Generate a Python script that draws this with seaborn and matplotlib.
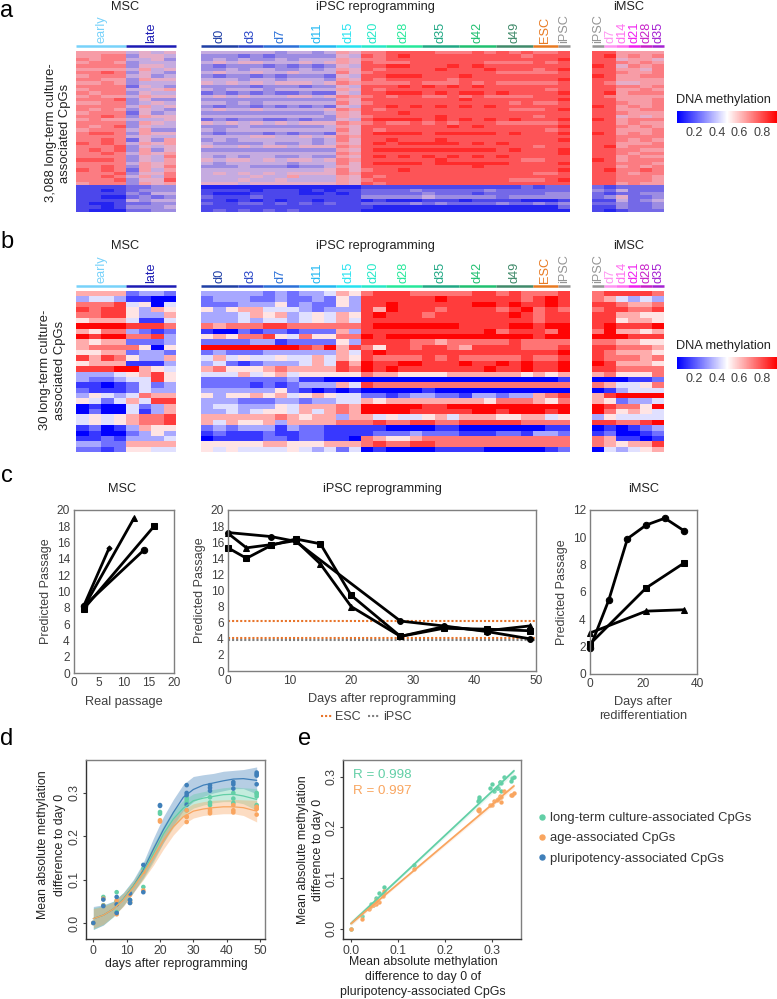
import numpy as np
import pandas as pd
import matplotlib
matplotlib.use("Agg")
import matplotlib.pyplot as plt
import seaborn as sns
from matplotlib.colors import LinearSegmentedColormap
from matplotlib.lines import Line2D

# =============================================================================
# 1. DATA (heatmap cells are read by eye, one digit per cell, 0=blue .. 9=red)
# =============================================================================
a_msc = ["66664545", "66773554", "76774453", "67763444", "77773554", "66664645", "77873543", "67774534",
         "77663655", "66763444", "77772543", "67774456", "76773544", "67664655", "77783533", "66773454",
         "77774645", "76763543", "67772534", "77873655", "67664445", "77773654", "76783544", "67774633",
         "78873655", "77774544", "77872536", "87874656", "77783545", "78783635", "77874656", "77773547",
         "88873546", "77774656", "77873657", "87872646", "77783557", "77874647", "77783558", "67773656",
         "11112233", "11012333", "11113244", "11002323", "11114344", "10012233", "11013334", "10002233"]
a_ipsc = ["4444443443465 77888877787878778", "3332323333354 87898888888887888", "3434334344465 77888888888888889",
          "4545544454565 87778888887777878", "3233323232354 88998889898888888", "3343443343465 87888898889888789",
          "4544544544475 78888888888777778", "3233232333254 88999888988888888", "4443443444365 87888887888888889",
          "5454545554576 77778777878777778", "3333233323354 88898989898888888", "4344434444465 87888888888888878",
          "2323232232254 88999898998988889", "4545444554576 78788778787777888", "3333333333365 88888888988888889",
          "4434344444475 78888888888878778", "3233232323254 88989898989888888", "4544544444576 87888888888877789",
          "3333333333465 88898888888888888", "4444444444365 78888898888888788", "2323322323354 89999898989898889",
          "5454545455576 78778787888777778", "3334333333465 88888889898888889", "4344444444475 87888888888888878",
          "3233323233265 89999899999898889", "4444554454576 88888888888888888", "3434444443475 88988898888888889",
          "4333343343465 89899999898988888", "5445455455576 88888888888888788", "3333333333365 89999999999898889",
          "4444444444476 88888888888888889", "4343443343365 89898989898988888", "5455454554576 88888898888887788",
          "4344444344475 89999899999988889", "3334333233465 88888888898888888", "4444444444575 78898888888888889",
          "4545454555576 88888888888888778", "4444544644465 87888888888888888", "4445445444465 78888888888877789",
          "5554555555565 87888888888888888",
          "0000000000000 11111111111112122", "1111011101011 22223222223222222", "1000111100101 22222322212222233",
          "2111211111111 33333433333233333", "1101010110111 01000111011110001", "2112212121211 22223232222322323",
          "1111111111111 10000000000000002", "1212121211111 00000000000000000"]
a_imsc = ["886666", "896767", "885665", "887676", "985767", "886657", "887667", "986677", "886666", "875566",
          "887767", "886676", "896777", "876666", "886667", "887667", "986767", "886677", "887666", "885656",
          "986777", "886766", "887676", "886667", "986767", "887777", "887676", "886667", "896777", "887766",
          "887677", "886766", "986777", "887776", "886767", "897787", "887677", "887776", "887776", "886766",
          "212222", "324222", "212233", "235223", "114234", "223223", "113223", "101222"]

b_msc = ["66662332", "34431100", "77784504", "87885365", "77885336", "56664114", "99998887", "65773212",
         "98997783", "65662223", "67777505", "55662332", "86875336", "56661113", "88899654", "33345685",
         "32234485", "11012423", "21112433", "35434766", "54246488", "01004236", "02004136", "45456778",
         "45456778", "12013655", "01002353", "11213334", "33226666", "22125544"]
b_ipsc = ["3333323233465 78887777788787778", "2333223223253 88888898888887898", "2223335232253 88988888899898898",
          "5356644432333 86988878888789787", "3334656345465 89888788888898788", "3334344345464 88888888888888788",
          "7677788777777 89999999888899899", "1002122122263 88888888889788879", "5657785475577 98999999999999899",
          "2222331222253 88887767777787777", "9999999987968 75887887688887778", "2322233333364 89888888888888889",
          "4645445446465 87777878777778778", "3421233346486 98899888988989889", "6755567666687 98988888889889889",
          "4446456455555 76655556666665656", "2222222311000 00000000000000001", "2222121233364 87777777777777777",
          "3333335210101 00000100000000000", "5355656456544 22123322133233678", "3332223323344 65666666665777657",
          "3443335466676 99999889999999999", "3343455464676 99998888899899989", "6666667656636 64544564666556645",
          "6465563666677 78778877888887777", "2323331322111 11000011000000011", "1211121122111 12223222111221332",
          "0111122122110 76556777777777777", "5555566555666 78778877777777777", "5454444543424 01000011110000012"]
b_imsc = ["788887", "764343", "887667", "788778", "886655", "885665", "898889", "796656", "999888", "776655",
          "887776", "876665", "877767", "986665", "887777", "675557", "000112", "764457", "013444", "689999",
          "652334", "987759", "975654", "354444", "887789", "010123", "120012", "761101", "765668", "043456"]

msc_groups = [("early", 4, "#78d2fa"), ("late", 4, "#1c1cb4")]
ipsc_groups = [("d0", 3, "#1f3fa5"), ("d3", 2, "#2a48c8"), ("d7", 3, "#2a70d8"), ("d11", 3, "#22b8f2"),
               ("d15", 2, "#26e2f0"), ("d20", 2, "#26e8c8"), ("d28", 3, "#26e89a"), ("d35", 3, "#20a884"),
               ("d42", 3, "#20c070"), ("d49", 3, "#408a6a"), ("ESC", 2, "#e87a22"), ("iPSC", 1, "#949494")]
imsc_groups = [("iPSC", 1, "#949494"), ("d7", 1, "#ff96f2"), ("d14", 1, "#ff70f0"), ("d21", 1, "#f020f0"),
               ("d28", 1, "#c822c8"), ("d35", 1, "#a422d2")]

# panel c
msc_x = [[2, 7], [2, 12], [2, 16], [2, 14]]
msc_y = [[8.3, 15.3], [8.1, 19.0], [7.9, 18.0], [8.2, 15.1]]
msc_markers = ["D", "^", "s", "o"]
rep_days = [0, 3, 7, 11, 15, 20, 28, 35, 42, 49]
rep_square = [15.3, 14.0, 15.6, 16.4, 15.8, 9.4, 4.3, 5.3, 5.2, 5.0]
rep_triangle = [17.1, 15.3, 15.7, 16.2, 13.3, 8.0, 4.3, 5.5, 5.0, 5.6]
rep_circle_days = [0, 7, 11, 28, 35, 42, 49]
rep_circle = [17.2, 16.7, 16.1, 6.2, 5.6, 4.9, 4.0]
esc_levels = [6.2, 4.15]
ipsc_levels = [3.8]
imsc_circle_days = [0, 7, 14, 21, 28, 35]
imsc_circle = [1.9, 5.4, 9.9, 10.9, 11.4, 10.5]
imsc_sparse_days = [0, 21, 35]
imsc_square = [2.2, 6.3, 8.1]
imsc_triangle = [3.0, 4.6, 4.7]

# panel d/e samples
sample_days = [0, 3, 3, 7, 7, 7, 11, 11, 11, 15, 15, 20, 20, 28, 28, 28, 28, 35, 35, 35, 42, 42, 42, 49, 49, 49, 49]
pluri_vals = [0, .054, .039, .060, .043, .023, .068, .053, .046, .134, .071, .272, .270, .318, .300, .295, .273,
              .318, .312, .305, .325, .320, .310, .347, .343, .340, .320]
ltc_vals = [0, .060, .041, .071, .050, .025, .068, .053, .047, .125, .083, .256, .252, .290, .285, .278, .260,
            .290, .278, .272, .300, .287, .277, .300, .297, .292, .272]
age_vals = [0, .056, .040, .052, .045, .020, .065, .050, .047, .118, .075, .237, .234, .260, .245, .245, .233,
            .262, .257, .253, .272, .260, .255, .268, .264, .263, .250]

fit_days = [0, 3, 6, 9, 12, 15, 18, 21, 24, 27, 30, 33, 36, 39, 42, 45, 49]
pluri_fit = [.010, .018, .032, .055, .085, .122, .170, .215, .255, .290, .308, .318, .323, .328, .332, .333, .329]
pluri_hi = [.038, .042, .050, .070, .100, .140, .195, .245, .285, .320, .338, .342, .345, .350, .352, .354, .360]
pluri_lo = [-.015, -.005, .015, .040, .070, .105, .145, .185, .225, .260, .280, .292, .300, .305, .310, .310, .298]
ltc_fit = [.010, .018, .032, .055, .085, .118, .160, .205, .240, .265, .282, .288, .292, .296, .297, .293, .285]
ltc_hi = [.035, .040, .050, .070, .098, .135, .180, .225, .260, .283, .298, .303, .308, .312, .314, .312, .310]
ltc_lo = [-.015, -.004, .014, .040, .072, .102, .140, .185, .220, .248, .265, .272, .277, .280, .280, .275, .260]
age_fit = [.010, .018, .032, .053, .082, .115, .152, .190, .222, .245, .258, .263, .266, .268, .268, .266, .258]
age_hi = [.033, .038, .048, .068, .095, .130, .172, .210, .240, .262, .275, .280, .283, .284, .285, .284, .283]
age_lo = [-.012, -.003, .016, .038, .070, .100, .133, .170, .203, .228, .242, .248, .250, .252, .252, .248, .233]

GREEN, ORANGE, BLUE = "#62cfa6", "#f9a55f", "#3f7fb9"
DARK = "#404040"

# =============================================================================
# 2. SETUP
# =============================================================================
sns.set_theme(style="white")
plt.rcParams["font.family"] = ["Liberation Sans", "DejaVu Sans"]
W, H = 777, 999
fig = plt.figure(figsize=(W / 100, H / 100), dpi=100)
cmap = LinearSegmentedColormap.from_list("meth", ["#0000ff", "#ffffff", "#ff0000"])
# panel a is so finely striped in the original that the mid tones blend to purple
cmap_a = LinearSegmentedColormap.from_list("meth_a", [(0, "#2424f0"), (0.33, "#9c8ce2"), (0.47, "#d0b4e0"),
                                                      (0.62, "#f6a8b4"), (0.78, "#fb7a80"), (1, "#ff2828")])


def axes_px(x0, y0, x1, y1):
    return fig.add_axes([x0 / W, 1 - y1 / H, (x1 - x0) / W, (y1 - y0) / H])


def text_px(x, y, s, **kw):
    kw.setdefault("ha", "center")
    kw.setdefault("va", "center")
    kw.setdefault("color", "#222222")
    kw.setdefault("fontsize", 9.2)
    fig.text(x / W, 1 - y / H, s, **kw)


def cells(rows):
    return pd.DataFrame([[0.05 + 0.097 * int(c) for c in r.replace(" ", "")] for r in rows])


def draw_heat(rows, box, groups, heat_cmap):
    ax = axes_px(*box)
    sns.heatmap(cells(rows), ax=ax, cmap=heat_cmap, vmin=0.05, vmax=0.93, cbar=False,
                xticklabels=False, yticklabels=False)
    trans = ax.get_xaxis_transform()
    height = box[3] - box[1]
    start = 0
    for name, n, col in groups:
        ax.plot([start, start + n], [1 + 5 / height] * 2, transform=trans, color=col, lw=1.8,
                solid_capstyle="butt", clip_on=False)
        ax.text(start + n / 2, 1 + 8 / height, name, transform=trans, color=col, rotation=90,
                ha="center", va="bottom", fontsize=9.2)
        start += n
    return ax


def draw_cbar(box, title_y, tick_y):
    cax = axes_px(*box)
    sns.heatmap(pd.DataFrame([np.linspace(0.05, 0.93, 200)]), ax=cax, cmap=cmap, vmin=0.05, vmax=0.93,
                cbar=False, xticklabels=False, yticklabels=False)
    for v in [0.2, 0.4, 0.6, 0.8]:
        pos = box[0] + (box[2] - box[0]) * (v - 0.05) / 0.88
        text_px(pos, tick_y, f"{v:.1f}", fontsize=9, color=DARK)
    text_px((box[0] + box[2]) / 2 - 4, title_y, "DNA methylation", fontsize=9.2)


def frame(ax, color="#7f7f7f", lw=1.0):
    for s in ax.spines.values():
        s.set_visible(True)
        s.set_color(color)
        s.set_linewidth(lw)


# =============================================================================
# 3. PANELS A AND B
# =============================================================================
for rows_set, top, bottom, title_y, lab_x, lab_y, lab, cbar_y, heat_cmap in [
    ((a_msc, a_ipsc, a_imsc), 51, 212, 7, (51, 65), 133,
     ("3,088 long-term culture-", "associated CpGs"), 111, cmap_a),
    ((b_msc, b_ipsc, b_imsc), 291, 452, 246, (45, 60), 370,
     ("30 long-term culture-", "associated CpGs"), 357, cmap),
]:
    draw_heat(rows_set[0], (76, top, 176, bottom), msc_groups, heat_cmap)
    draw_heat(rows_set[1], (201, top, 570, bottom), ipsc_groups, heat_cmap)
    draw_heat(rows_set[2], (592, top, 664, bottom), imsc_groups, heat_cmap)
    text_px(125, title_y, "MSC")
    text_px(375, title_y, "iPSC reprogramming")
    text_px(629, title_y, "iMSC")
    text_px(lab_x[0], lab_y, lab[0], rotation=90, fontsize=9.4)
    text_px(lab_x[1], lab_y, lab[1], rotation=90, fontsize=9.4)
    draw_cbar((677, cbar_y, 777, cbar_y + 12), cbar_y - 11, cbar_y + 22)

# =============================================================================
# 4. PANEL C
# =============================================================================
line_kw = dict(color="black", linewidth=2.0, errorbar=None, markeredgecolor="black")
DOTS = (0, (1, 0.95))


def style_c(ax, xlim, ylim, xticks, yticks, ylabel="Predicted Passage"):
    ax.set_xlim(*xlim)
    ax.set_ylim(*ylim)
    ax.set_xticks(xticks)
    ax.set_yticks(yticks)
    ax.tick_params(length=0, labelsize=8.6, labelcolor=DARK, pad=3)
    ax.set_ylabel(ylabel, fontsize=9.0, color=DARK, labelpad=3)
    ax.set_xlabel("")
    frame(ax)


ax = axes_px(74, 510, 174, 673)
for xs, ys, m in zip(msc_x, msc_y, msc_markers):
    sns.lineplot(x=xs, y=ys, marker=m, markersize=4.6 if m != "D" else 2.6, ax=ax, **line_kw)
style_c(ax, (0, 20), (0, 20), range(0, 21, 5), range(0, 21, 2))
text_px(122, 489, "MSC")
text_px(124, 702, "Real passage", color=DARK)

ax = axes_px(228, 510, 536, 671)
for v in esc_levels:
    ax.axhline(v, color="#e8742a", ls=DOTS, lw=1.5)
for v in ipsc_levels:
    ax.axhline(v, color="#808080", ls=DOTS, lw=1.5)
sns.lineplot(x=rep_days, y=rep_square, marker="s", markersize=4.6, ax=ax, **line_kw)
sns.lineplot(x=rep_days, y=rep_triangle, marker="^", markersize=4, ax=ax, **line_kw)
sns.lineplot(x=rep_circle_days, y=rep_circle, marker="o", markersize=4.2, ax=ax, **line_kw)
style_c(ax, (0, 50), (0, 20), range(0, 51, 10), range(0, 21, 2))
for t in ax.get_lines():
    t.set_clip_on(False)
text_px(382, 489, "iPSC reprogramming")
text_px(382, 699, "Days after reprogramming", color=DARK)
fig.legend([Line2D([], [], color="#e8742a", ls=DOTS, lw=1.5),
            Line2D([], [], color="#808080", ls=DOTS, lw=1.5)],
           ["ESC", "iPSC"], ncol=2, frameon=False, loc="center", bbox_to_anchor=(366 / W, 1 - 717 / H),
           fontsize=9, handlelength=0.9, handletextpad=0.25, columnspacing=0.6, labelcolor=DARK)

ax = axes_px(590, 510, 697, 674)
sns.lineplot(x=imsc_circle_days, y=imsc_circle, marker="o", markersize=4.6, ax=ax, **line_kw)
sns.lineplot(x=imsc_sparse_days, y=imsc_square, marker="s", markersize=4.8, ax=ax, **line_kw)
sns.lineplot(x=imsc_sparse_days, y=imsc_triangle, marker="^", markersize=4.2, ax=ax, **line_kw)
style_c(ax, (0, 40), (0, 12), range(0, 41, 20), range(0, 13, 2))
for t in ax.get_lines():
    t.set_clip_on(False)
text_px(644, 489, "iMSC")
text_px(643, 702, "Days after", color=DARK)
text_px(643, 716, "redifferentiation", color=DARK)

# =============================================================================
# 5. PANEL D
# =============================================================================
ax = axes_px(86, 760, 265, 939)
samples = pd.DataFrame({"day": sample_days, "pluri": pluri_vals, "ltc": ltc_vals, "age": age_vals})
long_df = samples.melt(id_vars="day", value_vars=["ltc", "age", "pluri"], var_name="set", value_name="value")
for fit, lo, hi, col in [(pluri_fit, pluri_lo, pluri_hi, BLUE), (ltc_fit, ltc_lo, ltc_hi, GREEN),
                         (age_fit, age_lo, age_hi, ORANGE)]:
    ax.fill_between(fit_days, lo, hi, color=col, alpha=0.38, linewidth=0)
    sns.lineplot(x=fit_days, y=fit, color=col, linewidth=0.9, errorbar=None, ax=ax)
sns.scatterplot(data=long_df, x="day", y="value", hue="set", palette={"ltc": GREEN, "age": ORANGE, "pluri": BLUE},
                s=11, linewidth=0, legend=False, ax=ax)
ax.set_xlim(-2.2, 51.5)
ax.set_ylim(-0.037, 0.376)
ax.set_xticks(range(0, 51, 10))
ax.set_yticks([0, 0.1, 0.2, 0.3])
ax.set_yticklabels(["0.0", "0.1", "0.2", "0.3"], rotation=90, va="center")
ax.tick_params(length=2, width=0.8, color=DARK, labelsize=8.8, labelcolor=DARK, pad=2, left=True, bottom=True)
ax.set_xlabel("")
ax.set_ylabel("")
frame(ax)
ax.spines["left"].set_color("#333333")
ax.spines["bottom"].set_color("#333333")
text_px(43, 845, "Mean absolute methylation", rotation=90, fontsize=8.9)
text_px(60, 845, "difference to day 0", rotation=90, fontsize=8.9)
text_px(176, 964, "days after reprogramming", fontsize=8.9)

# =============================================================================
# 6. PANEL E
# =============================================================================
ax = axes_px(343, 760, 521, 939)
sns.regplot(x=pluri_vals, y=ltc_vals, ax=ax, color=GREEN, ci=95, n_boot=200, seed=1,
            scatter_kws={"s": 10, "alpha": 1, "linewidths": 0}, line_kws={"lw": 1.3})
sns.regplot(x=pluri_vals, y=age_vals, ax=ax, color=ORANGE, ci=95, n_boot=200, seed=1,
            scatter_kws={"s": 10, "alpha": 1, "linewidths": 0}, line_kws={"lw": 1.3})
ax.set_xlim(-0.017, 0.362)
ax.set_ylim(-0.02, 0.333)
ax.set_xticks([0, 0.1, 0.2, 0.3])
ax.set_xticklabels(["0.0", "0.1", "0.2", "0.3"])
ax.set_yticks([0, 0.1, 0.2, 0.3])
ax.set_yticklabels(["0.0", "0.1", "0.2", "0.3"], rotation=90, va="center")
ax.tick_params(length=2, width=0.8, color=DARK, labelsize=8.8, labelcolor=DARK, pad=2, left=True, bottom=True)
frame(ax)
ax.spines["left"].set_color("#333333")
ax.spines["bottom"].set_color("#333333")
text_px(353, 775, "R = 0.998", color=GREEN, ha="left", fontsize=9.6)
text_px(353, 791, "R = 0.997", color=ORANGE, ha="left", fontsize=9.6)
text_px(303, 850, "Mean absolute methylation", rotation=90, fontsize=8.9)
text_px(318, 850, "difference to day 0", rotation=90, fontsize=8.9)
text_px(423, 962, "Mean absolute methylation", fontsize=8.9)
text_px(423, 977, "difference to day 0 of", fontsize=8.9)
text_px(423, 992, "pluripotency-associated CpGs", fontsize=8.9)

handles = [Line2D([], [], marker="o", ls="", color=c, markersize=3.6) for c in (GREEN, ORANGE, BLUE)]
fig.legend(handles, ["long-term culture-associated CpGs", "age-associated CpGs", "pluripotency-associated CpGs"],
           frameon=False, loc="upper left", bbox_to_anchor=(534 / W, 1 - 812 / H), fontsize=9.4,
           handlelength=1.2, handletextpad=0.0, labelspacing=0.62, labelcolor="#333333", borderpad=0,
           borderaxespad=0)

# panel letters
for letter, x, y in [("a", 7, 11), ("b", 7, 242), ("c", 7, 476), ("d", 7, 739), ("e", 305, 739)]:
    text_px(x, y, letter, fontsize=17, color="black")

fig.savefig("out.png", dpi=100)
